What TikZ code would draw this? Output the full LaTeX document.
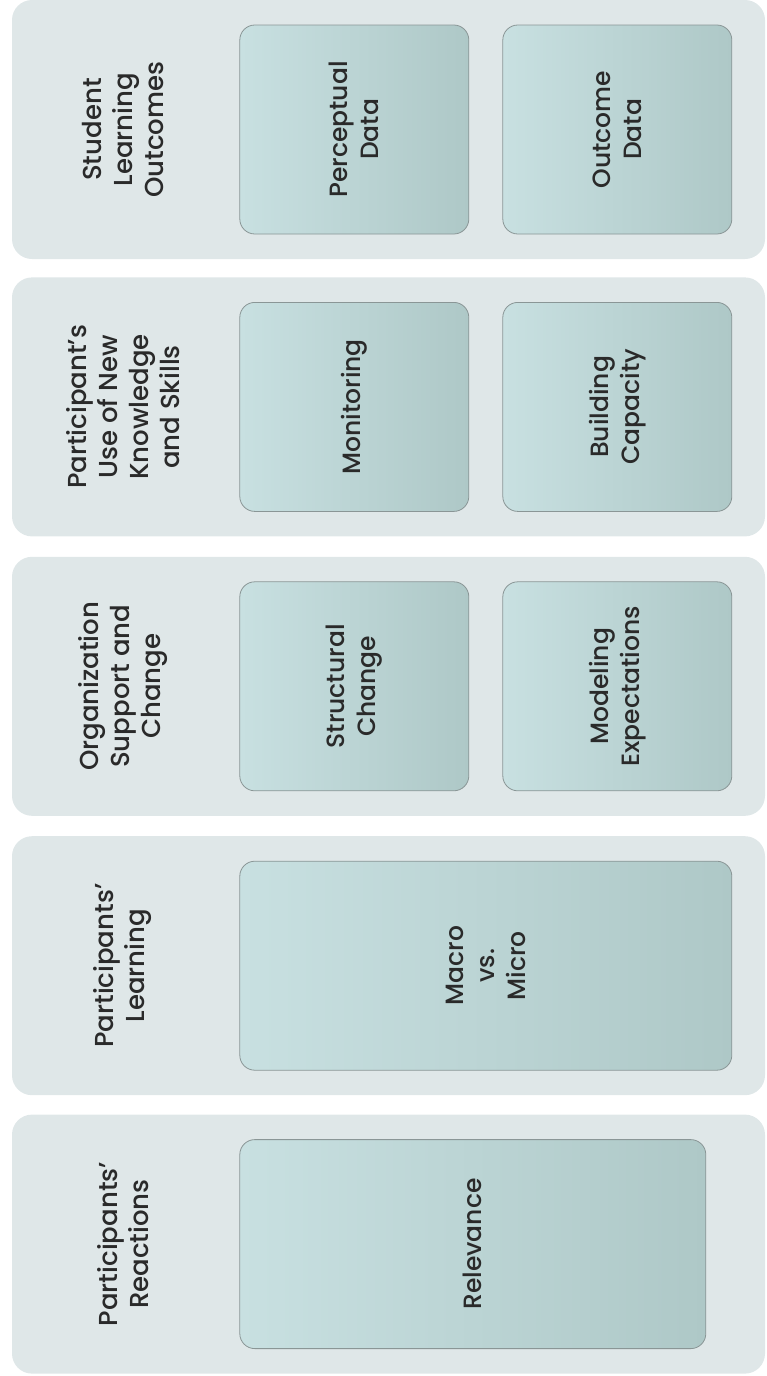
\documentclass[tikz,border=0pt]{standalone}
\usepackage{fontspec}
\setmainfont{Poppins Medium}
\usepackage{tikz}
\usetikzlibrary{positioning}

\definecolor{bandgrey}{HTML}{DFE7E8}
\definecolor{celllight}{HTML}{C8E0E1}
\definecolor{celldark}{HTML}{AEC8C7}
\definecolor{edgegrey}{HTML}{8A9696}
\definecolor{inkgrey}{HTML}{2A2A2A}

\begin{document}
\begin{tikzpicture}[
		x=1pt, y=-1pt,
		band/.style={fill=bandgrey, rounded corners=20pt, inner sep=0pt,
			minimum width=753pt, minimum height=259pt},
		heading/.style={rotate=90, align=center, text=inkgrey,
			font=\fontsize{26}{31}\selectfont},
		cell/.style={rotate=90, align=center, text=inkgrey, draw=edgegrey,
			line width=0.8pt, rounded corners=15pt,
			left color=celllight, right color=celldark,
			minimum width=209pt, minimum height=229pt,
			font=\fontsize{25}{31}\selectfont}
	]
		\useasboundingbox (0,0) rectangle (767,1376);

		\node[band]                   (b1) at (388.5,129.5) {};
		\node[band,below=18pt of b1]  (b2) {};
		\node[band,below=20pt of b2]  (b3) {};
		\node[band,below=20pt of b3]  (b4) {};
		\node[band,below=19pt of b4]  (b5) {};

		\node[heading] (outcomes)  at ([xshift=111pt]b1.west) {Student\\Learning\\Outcomes};
		\node[heading] (use)       at ([xshift=111pt]b2.west) {Participant’s\\Use of New\\Knowledge\\and Skills};
		\node[heading] (support)   at ([xshift=111pt]b3.west) {Organization\\Support and\\Change};
		\node[heading] (learning)  at ([xshift=111pt]b4.west) {Participants’\\Learning};
		\node[heading] (reactions) at ([xshift=111pt]b5.west) {Participants’\\Reactions};

		\node[cell] (perceptual) at ([xshift=342.5pt]b1.west) {Perceptual\\Data};
		\node[cell] (outcome)    at ([xshift=605.5pt]b1.west) {Outcome\\Data};
		\node[cell] (monitoring) at ([xshift=342.5pt]b2.west) {Monitoring};
		\node[cell] (capacity)   at ([xshift=605.5pt]b2.west) {Building\\Capacity};
		\node[cell] (structural) at ([xshift=342.5pt]b3.west) {Structural\\Change};
		\node[cell] (modeling)   at ([xshift=605.5pt]b3.west) {Modeling\\Expectations};
		\node[cell,minimum height=492pt] (macro)     at ([xshift=474pt]b4.west) {Macro\\vs.\\Micro};
		\node[cell,minimum height=466pt] (relevance) at ([xshift=461pt]b5.west) {Relevance};
	\end{tikzpicture}
\end{document}
